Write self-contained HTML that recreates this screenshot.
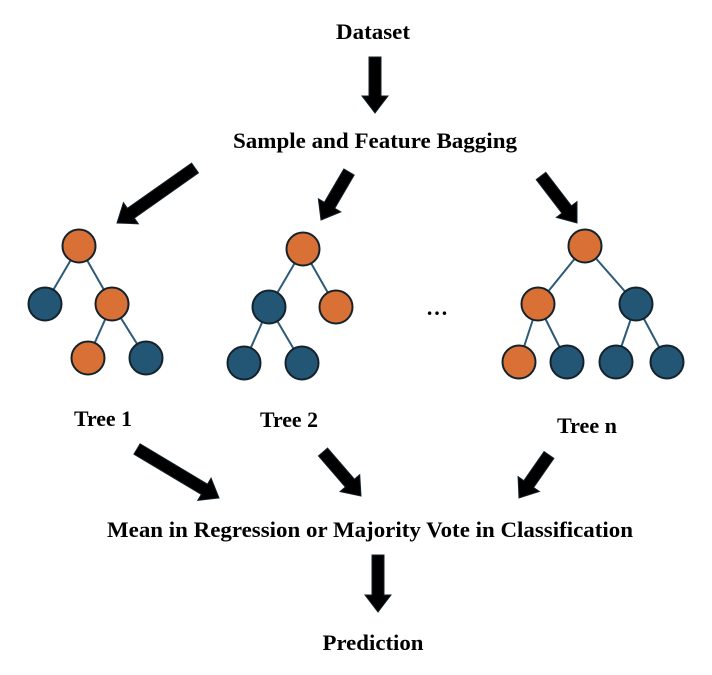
<!DOCTYPE html>
<html><head><meta charset="utf-8"><style>
html,body{margin:0;padding:0;background:#fff}
svg{display:block}
text{font-family:"Liberation Serif",serif;font-weight:bold;fill:#000}
</style></head><body>
<svg id="s" width="712" height="675" viewBox="0 0 712 675">
<text x="373" y="39" text-anchor="middle" font-size="22" textLength="74" lengthAdjust="spacingAndGlyphs">Dataset</text>
<text x="375" y="148" text-anchor="middle" font-size="22" textLength="284" lengthAdjust="spacingAndGlyphs">Sample and Feature Bagging</text>
<text x="103" y="426" text-anchor="middle" font-size="22" textLength="58" lengthAdjust="spacingAndGlyphs">Tree 1</text>
<text x="289" y="427" text-anchor="middle" font-size="22" textLength="58" lengthAdjust="spacingAndGlyphs">Tree 2</text>
<text x="587" y="433" text-anchor="middle" font-size="22" textLength="60" lengthAdjust="spacingAndGlyphs">Tree n</text>
<text x="437" y="315" text-anchor="middle" font-size="22" font-weight="normal">…</text>
<text x="370" y="537" text-anchor="middle" font-size="22" textLength="526" lengthAdjust="spacingAndGlyphs">Mean in Regression or Majority Vote in Classification</text>
<text x="373" y="650" text-anchor="middle" font-size="22" textLength="101" lengthAdjust="spacingAndGlyphs">Prediction</text>
</svg>
<script>
const svg=document.getElementById('s');
const NS='http://www.w3.org/2000/svg';
const arrows=[[375,57,375,113,'arrow-dataset'],[195,168,117,223,'arrow-tree-1'],[349,172,321,220,'arrow-tree-2'],[541,176,577,223,'arrow-tree-n'],
[137,449,219,498,'arrow-tree-1-out'],[323,452,361,496,'arrow-tree-2-out'],[549,455,519,498,'arrow-tree-n-out'],[378,555,378,612,'arrow-prediction']];
const nodes=[
 [79,246,'o'],[45,304,'b'],[112,304,'o'],[88,358,'o'],[146,358,'b'],
 [303,249,'o'],[269,307,'b'],[336,307,'o'],[244,363,'b'],[302,363,'b'],
 [585,246,'o'],[538,304,'o'],[636,304,'b'],[519,362,'o'],[567,362,'b'],[616,362,'b'],[667,362,'b']];
const edges=[[0,1],[0,2],[2,3],[2,4],[5,6],[5,7],[6,8],[6,9],[10,11],[10,12],[11,13],[11,14],[12,15],[12,16]];
arrows.forEach(a=>{
 const [x1,y1,x2,y2]=a;const dx=x2-x1,dy=y2-y1,L=Math.hypot(dx,dy),ux=dx/L,uy=dy/L,px=-uy,py=ux;
 const sw=6,hw=13,hl=17;const bx=x2-ux*hl,by=y2-uy*hl;
 const pts=[[x1+px*sw,y1+py*sw],[bx+px*sw,by+py*sw],[bx+px*hw,by+py*hw],[x2,y2],[bx-px*hw,by-py*hw],[bx-px*sw,by-py*sw],[x1-px*sw,y1-py*sw]];
 const p=document.createElementNS(NS,'polygon');
 p.setAttribute('points',pts.map(q=>q.join(',')).join(' '));
 p.setAttribute('fill','#000');p.setAttribute('stroke','#14222c');p.setAttribute('stroke-width','1');
 
 
 svg.appendChild(p);
});
edges.forEach(e=>{
 const a=nodes[e[0]],b=nodes[e[1]];
 const l=document.createElementNS(NS,'line');
 l.setAttribute('x1',a[0]);l.setAttribute('y1',a[1]);l.setAttribute('x2',b[0]);l.setAttribute('y2',b[1]);
 l.setAttribute('stroke','#2d5a78');l.setAttribute('stroke-width','2');
 
 
 svg.appendChild(l);
});
nodes.forEach(n=>{
 const c=document.createElementNS(NS,'circle');
 c.setAttribute('cx',n[0]);c.setAttribute('cy',n[1]);c.setAttribute('r','16.5');
 c.setAttribute('fill',n[2]==='o'?'#D97036':'#235574');
 c.setAttribute('stroke','#14222c');c.setAttribute('stroke-width','2');
 
 
 svg.appendChild(c);
});
</script>
</body></html>
